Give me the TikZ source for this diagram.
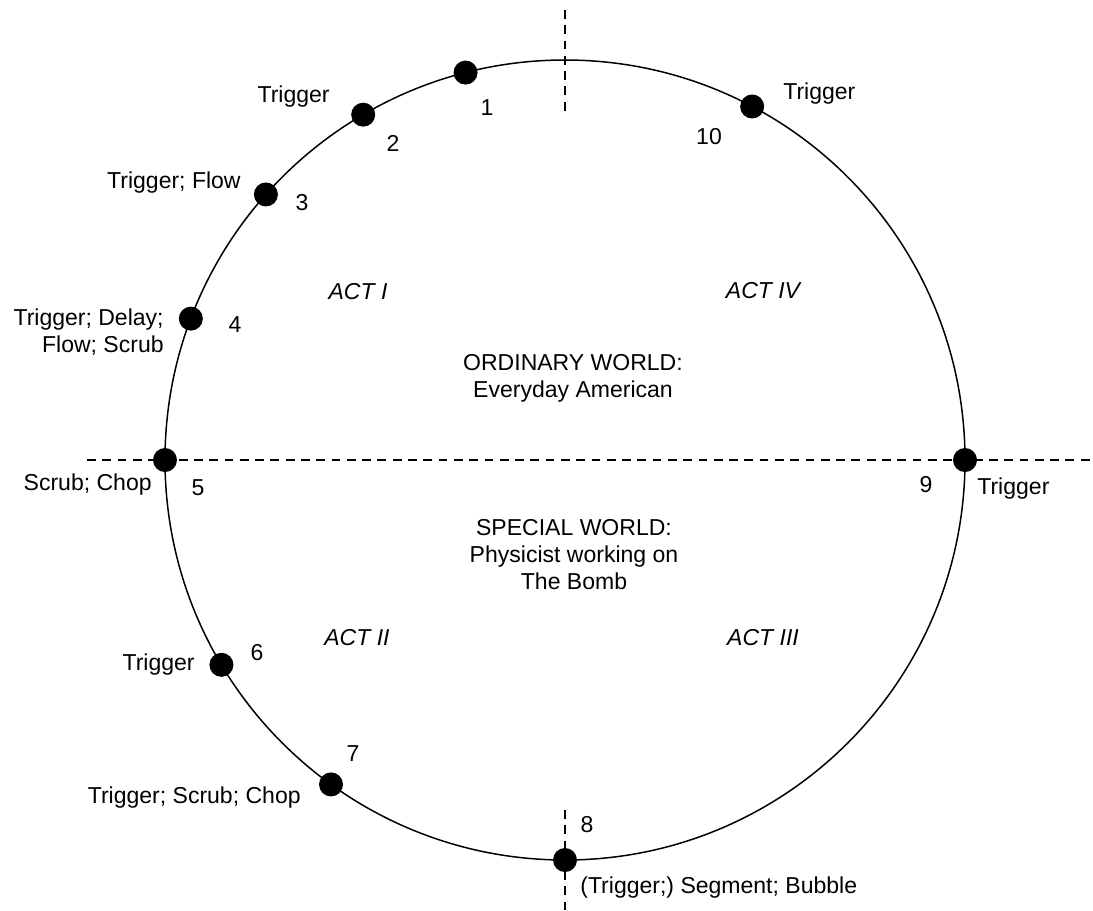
\documentclass[tikz,border=0pt]{standalone}
\usepackage{fontspec}
\setmainfont{Liberation Sans}
\usepackage{tikz}

\tikzset{
	dot/.style={circle, fill=black, inner sep=0pt, minimum size=0.48cm},
	lbl/.style={inner sep=0pt, font=\fontsize{13.1}{15.4}\selectfont},
	act/.style={lbl, font=\fontsize{13.1}{15.4}\selectfont\itshape},
	axis/.style={line width=0.8pt, dash pattern=on 5pt off 3.7pt}
}

\begin{document}
\begin{tikzpicture}[]
	%\draw[help lines, thick] (-11,-9) grid (10,9);
	\useasboundingbox (-11.3,-9.0) rectangle (10.56,9.2);
	\coordinate (O) at (0,0);
	\coordinate (vt1) at (0,9.0);
	\coordinate (vt2) at (0,6.96);
	\coordinate (vb1) at (0,-7.0);
	\coordinate (vb2) at (0,-9.0);
	\coordinate (hl) at (-9.56,0);
	\coordinate (hr) at (10.56,0);
	\draw [axis] (vt1)--(vt2);
	\draw [axis] (vb1)--(vb2);
	\draw [axis] (hl)--(hr);
	\draw [line width=0.85pt] (O) circle [radius=8];
	\node [dot] (d1) at (104.4:8) {};
	\node [dot] (d2) at (120.3:8) {};
	\node [dot] (d3) at (138.4:8) {};
	\node [dot] (d4) at (159.3:8) {};
	\node [dot] (d5) at (180:8) {};
	\node [dot] (d6) at (210.8:8) {};
	\node [dot] (d7) at (234.2:8) {};
	\node [dot] (d8) at (270:8) {};
	\node [dot] (d9) at (0:8) {};
	\node [dot] (d10) at (62.1:8) {};
	% numbers
	\node [lbl] (n1) at (-1.56,7.04) {1};
	\node [lbl] (n2) at (-3.44,6.34) {2};
	\node [lbl] (n3) at (-5.26,5.14) {3};
	\node [lbl] (n4) at (-6.6,2.7) {4};
	\node [lbl] (n5) at (-7.34,-0.56) {5};
	\node [lbl] (n6) at (-6.16,-3.86) {6};
	\node [lbl] (n7) at (-4.24,-5.88) {7};
	\node [lbl] (n8) at (0.44,-7.3) {8};
	\node [lbl] (n9) at (7.22,-0.5) {9};
	\node [lbl] (n10) at (2.88,6.46) {10};
	% events
	\node [lbl, anchor=east] (t2) at (-4.7,7.26) {Trigger};
	\node [lbl, anchor=east] (t3) at (-6.48,5.54) {Trigger; Flow};
	\node [lbl, anchor=east, align=right] (t4) at (-8.02,2.56) {Trigger; Delay;\\Flow; Scrub};
	\node [lbl, anchor=east] (t5) at (-8.26,-0.5) {Scrub; Chop};
	\node [lbl, anchor=east] (t6) at (-7.4,-4.1) {Trigger};
	\node [lbl, anchor=east] (t7) at (-5.28,-6.76) {Trigger; Scrub; Chop};
	\node [lbl, anchor=west] (t8) at (0.3,-8.56) {(Trigger;) Segment; Bubble};
	\node [lbl, anchor=west] (t9) at (8.24,-0.58) {Trigger};
	\node [lbl, anchor=west] (t10) at (4.36,7.32) {Trigger};
	% acts and worlds
	\node [act] (a1) at (-4.14,3.36) {ACT I};
	\node [act] (a2) at (-4.16,-3.56) {ACT II};
	\node [act] (a3) at (3.96,-3.56) {ACT III};
	\node [act] (a4) at (3.96,3.38) {ACT IV};
	\node [lbl, align=center] (ordw) at (0.16,1.63) {ORDINARY WORLD:\\Everyday American};
	\node [lbl, align=center] (specw) at (0.18,-1.9) {SPECIAL WORLD:\\Physicist working on\\The Bomb};
\end{tikzpicture}
\end{document}
